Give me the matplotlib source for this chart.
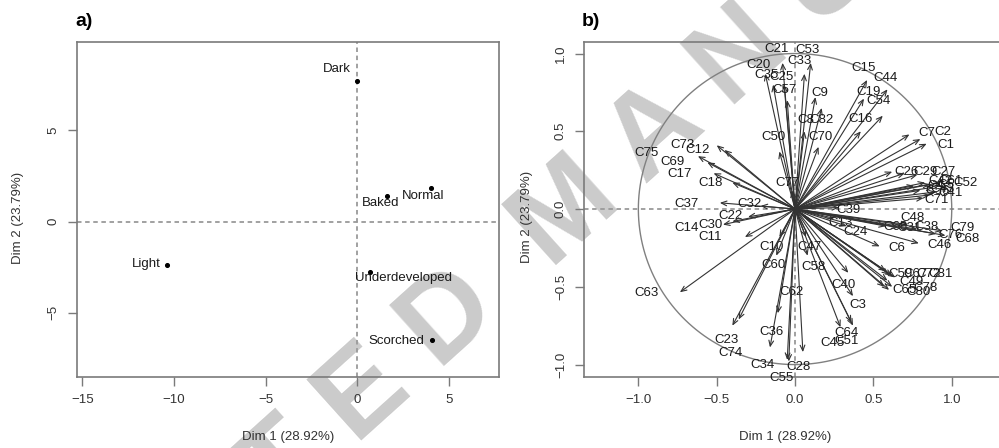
import numpy as np
import matplotlib.pyplot as plt

plt.rcParams['font.family'] = ['Liberation Sans', 'DejaVu Sans']

# a) individuals
ind_names = ['Dark', 'Normal', 'Baked', 'Light', 'Underdeveloped', 'Scorched']
ind_x = [0.0, 4.0, 1.6, -10.4, 0.7, 4.1]
ind_y = [7.7, 1.85, 1.4, -2.35, -2.75, -6.5]
ind_lab_x = [-1.1, 3.6, 1.25, -11.5, 2.5, 2.15]
ind_lab_y = [8.35, 1.4, 1.0, -2.3, -3.1, -6.55]

# b) variables: arrow tip (x, y) and label position (lx, ly)
var_names = ['C21', 'C53', 'C33', 'C20', 'C35', 'C25', 'C57', 'C9', 'C15', 'C44',
             'C19', 'C54', 'C16', 'C8', 'C82', 'C70', 'C50', 'C77', 'C7', 'C2',
             'C1', 'C26', 'C29', 'C27', 'C52', 'C5', 'C61', 'C41', 'C56', 'C42',
             'C43', 'C71', 'C4', 'C39', 'C13', 'C24', 'C48', 'C66', 'C31', 'C38',
             'C79', 'C76', 'C68', 'C46', 'C6', 'C59', 'C67', 'C72', 'C81', 'C49',
             'C65', 'C80', 'C78', 'C40', 'C3', 'C64', 'C51', 'C45', 'C47', 'C58',
             'C10', 'C60', 'C62', 'C36', 'C23', 'C74', 'C34', 'C28', 'C55', 'C63',
             'C75', 'C73', 'C12', 'C69', 'C17', 'C18', 'C37', 'C32', 'C22', 'C30',
             'C14', 'C11']
var_x = [-0.08, 0.10, 0.06, -0.19, -0.14, -0.07, -0.05, 0.13, 0.46, 0.59,
         0.44, 0.56, 0.42, 0.06, 0.17, 0.15, -0.10, -0.02, 0.73, 0.80,
         0.84, 0.62, 0.70, 0.78, 0.93, 0.88, 0.86, 0.90, 0.86, 0.83,
         0.80, 0.82, 0.76, 0.28, 0.25, 0.33, 0.72, 0.58, 0.66, 0.78,
         0.94, 0.90, 0.96, 0.79, 0.54, 0.58, 0.60, 0.62, 0.64, 0.59,
         0.57, 0.60, 0.62, 0.34, 0.37, 0.36, 0.37, 0.29, 0.07, 0.08,
         -0.10, -0.12, -0.11, -0.16, -0.40, -0.36, -0.05, 0.05, -0.04, -0.735,
         -0.62, -0.50, -0.45, -0.56, -0.52, -0.40, -0.48, -0.22, -0.30, -0.46,
         -0.40, -0.32]
var_y = [0.94, 0.94, 0.87, 0.87, 0.80, 0.80, 0.70, 0.72, 0.83, 0.77,
         0.71, 0.60, 0.50, 0.50, 0.65, 0.40, 0.37, 0.12, 0.48, 0.45,
         0.42, 0.24, 0.23, 0.22, 0.17, 0.14, 0.16, 0.11, 0.09, 0.17,
         0.12, 0.07, 0.15, 0.01, -0.06, -0.11, -0.10, -0.11, -0.12, -0.13,
         -0.14, -0.16, -0.17, -0.22, -0.24, -0.40, -0.42, -0.43, -0.44, -0.46,
         -0.50, -0.52, -0.50, -0.41, -0.56, -0.73, -0.75, -0.76, -0.18, -0.30,
         -0.18, -0.30, -0.67, -0.89, -0.75, -0.71, -0.97, -0.92, -0.98, -0.535,
         0.34, 0.41, 0.38, 0.30, 0.23, 0.17, 0.04, 0.02, -0.05, -0.10,
         -0.08, -0.18]
var_lx = [-0.115, 0.08, 0.03, -0.235, -0.18, -0.085, -0.065, 0.155, 0.44, 0.58,
          0.47, 0.53, 0.415, 0.07, 0.17, 0.165, -0.14, -0.05, 0.84, 0.945,
          0.96, 0.71, 0.83, 0.95, 1.085, 0.96, 0.99, 0.99, 0.91, 0.93,
          0.94, 0.905, 0.90, 0.34, 0.29, 0.385, 0.75, 0.64, 0.73, 0.84,
          1.07, 0.99, 1.10, 0.92, 0.65, 0.67, 0.77, 0.85, 0.93, 0.74,
          0.70, 0.79, 0.83, 0.31, 0.40, 0.33, 0.33, 0.24, 0.095, 0.115,
          -0.15, -0.14, -0.02, -0.15, -0.435, -0.415, -0.205, 0.02, -0.085, -0.945,
          -0.945, -0.72, -0.625, -0.785, -0.735, -0.54, -0.69, -0.29, -0.415, -0.54,
          -0.69, -0.54]
var_ly = [1.03, 1.02, 0.95, 0.925, 0.86, 0.85, 0.765, 0.745, 0.91, 0.84,
          0.75, 0.695, 0.58, 0.57, 0.57, 0.465, 0.465, 0.165, 0.49, 0.495,
          0.41, 0.24, 0.24, 0.24, 0.17, 0.155, 0.18, 0.10, 0.115, 0.18,
          0.13, 0.06, 0.15, -0.005, -0.09, -0.15, -0.055, -0.115, -0.12, -0.115,
          -0.12, -0.165, -0.19, -0.23, -0.25, -0.42, -0.42, -0.42, -0.42, -0.47,
          -0.52, -0.535, -0.505, -0.49, -0.615, -0.80, -0.85, -0.86, -0.245, -0.37,
          -0.245, -0.36, -0.535, -0.79, -0.84, -0.925, -1.0, -1.015, -1.085, -0.54,
          0.36, 0.41, 0.38, 0.30, 0.225, 0.165, 0.03, 0.03, -0.045, -0.10,
          -0.12, -0.18]

W, H = 999, 448
fig = plt.figure(figsize=(W / 100, H / 100), dpi=100)
fig.patch.set_facecolor('white')

ax1 = fig.add_axes([77 / W, 1 - 376.5 / H, 422 / W, 334.5 / H])
ax2 = fig.add_axes([584.3 / W, 1 - 376.7 / H, 421.5 / W, 335 / H])


def r_style(ax):
    ax.set_facecolor('none')
    for s in ax.spines.values():
        s.set_color('#7a7a7a')
        s.set_linewidth(1.2)
    ax.tick_params(direction='out', length=6.5, width=1, color='#7a7a7a',
                   labelsize=9.5, labelcolor='#333333', pad=6)
    ax.tick_params(axis='y', labelrotation=90)
    for t in ax.get_yticklabels():
        t.set_va('center')


dash = (0, (2.5, 2))
txt = '#1a1a1a'

# panel a
ax1.axhline(0, color='#9a9a9a', lw=1.3, ls=dash)
ax1.axvline(0, color='#9a9a9a', lw=1.3, ls=dash)
ax1.scatter(ind_x, ind_y, s=7, c='k', zorder=3)
for n, lx, ly in zip(ind_names, ind_lab_x, ind_lab_y):
    ax1.text(lx, ly, n, ha='center', va='center', fontsize=9.5, color=txt)
ax1.set_xlim(-15.3, 7.73)
ax1.set_ylim(-8.49, 9.85)
ax1.set_xticks([-15, -10, -5, 0, 5])
ax1.set_yticks([-5, 0, 5])
ax1.set_xlabel('Dim 1 (28.92%)', fontsize=9.5, color='#333333')
ax1.set_ylabel('Dim 2 (23.79%)', fontsize=9.5, color='#333333')
r_style(ax1)
ax1.xaxis.set_label_coords(0.5, -0.18)
ax1.yaxis.set_label_coords(-0.14, 0.474)
ax1.xaxis.label.set_va('center')
ax1.yaxis.label.set_va('center')

# panel b
ax2.axhline(0, color='#9a9a9a', lw=1.3, ls=dash)
ax2.axvline(0, color='#9a9a9a', lw=1.3, ls=dash)
t = np.linspace(0, 2 * np.pi, 400)
ax2.plot(np.cos(t), np.sin(t), color='#808080', lw=1)
for n, x, y, lx, ly in zip(var_names, var_x, var_y, var_lx, var_ly):
    ax2.annotate('', xy=(x, y), xytext=(0, 0),
                 arrowprops=dict(arrowstyle='->,head_length=0.4,head_width=0.17',
                                 color='#333333', lw=0.8, shrinkA=0, shrinkB=0))
    ax2.text(lx, ly, n, ha='center', va='center', fontsize=9.5, color=txt,
             clip_on=False)
ax2.set_xlim(-1.345, 1.345)
ax2.set_ylim(-1.078, 1.076)
ax2.set_xticks([-1.0, -0.5, 0.0, 0.5, 1.0])
ax2.set_yticks([-1.0, -0.5, 0.0, 0.5, 1.0])
ax2.set_xlabel('Dim 1 (28.92%)', fontsize=9.5, color='#333333')
ax2.set_ylabel('Dim 2 (23.79%)', fontsize=9.5, color='#333333')
r_style(ax2)
ax2.xaxis.set_label_coords(0.476, -0.18)
ax2.yaxis.set_label_coords(-0.136, 0.477)
ax2.xaxis.label.set_va('center')
ax2.yaxis.label.set_va('center')

fig.text(75 / W, 1 - 21 / H, 'a)', fontsize=14, fontweight='bold', ha='left', va='center')
fig.text(582 / W, 1 - 21 / H, 'b)', fontsize=14, fontweight='bold', ha='left', va='center')

# watermark (letter-spaced, behind the plots)
fig.text(580 / W, 1 - 203 / H, 'A C C E P T E D  M A N U S C R I P T', rotation=42,
         fontsize=85, fontweight='bold', color='#cbcbcb', ha='center', va='center',
         rotation_mode='anchor', zorder=-1)

fig.savefig('out.png', dpi=100)
